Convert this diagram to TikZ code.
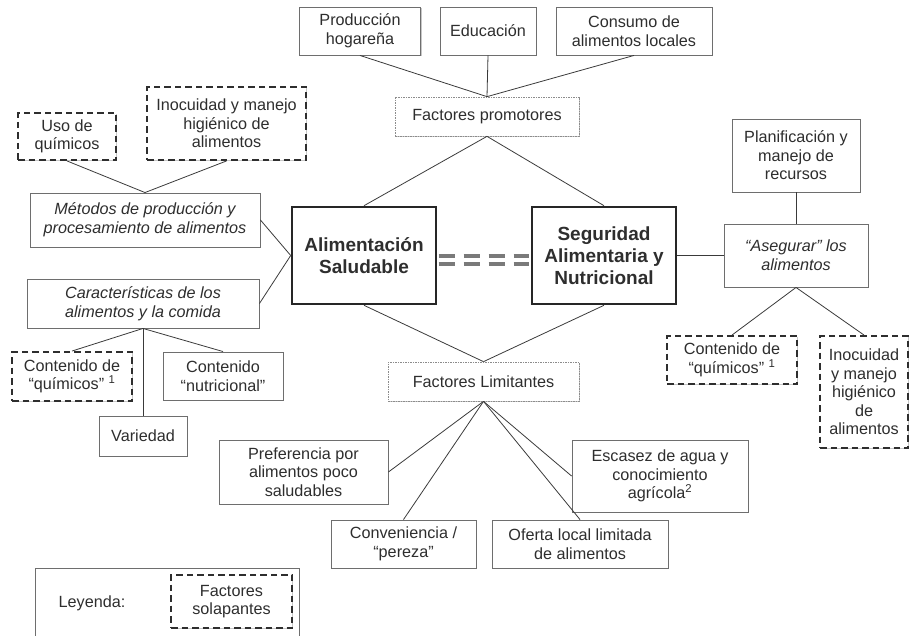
\documentclass[tikz,border=0pt]{standalone}
\usepackage{fontspec}
\setmainfont{Liberation Sans}
\usetikzlibrary{shadows,calc}
\definecolor{txt}{HTML}{2E2E2E}
\definecolor{bord}{HTML}{6E6E6E}
\definecolor{lnk}{HTML}{3A3A3A}
\definecolor{dbl}{HTML}{7A7A7A}
\tikzset{
  base/.style={align=center, inner sep=0pt, font=\fontsize{16.2}{18.6}\selectfont, text=txt},
  shad/.style={drop shadow={fill=black!22, opacity=1, shadow xshift=1.3pt, shadow yshift=-1.3pt}},
  sbox/.style={base, draw=bord, line width=0.9pt, fill=white, shad},
  ovbox/.style={base, draw=black!82, line width=1.9pt, dash pattern=on 6.5pt off 4pt, fill=white, shad},
  fbox/.style={base, draw=black!45, line width=0.7pt, dash pattern=on 1.5pt off 1pt, fill=white, shad},
  mainbox/.style={base, draw=black!85, line width=2.6pt, fill=white, font=\fontsize{19}{22}\selectfont\bfseries},
  link/.style={draw=lnk, line width=0.8pt},
  dblink/.style={draw=dbl, line width=3.2pt, dash pattern=on 16pt off 9pt},
  sz/.style 2 args={minimum width=#1pt, minimum height=#2pt},
}
\begin{document}
\begin{tikzpicture}[x=1pt,y=-1pt]
\path[use as bounding box, clip] (0,0) rectangle (910,636);

% top promoters
\node[sbox, sz={121}{48}] (prod) at (360,31) {Producción\\hogareña};
\node[sbox, sz={96}{48}] (edu) at (488,31) {Educación};
\node[sbox, sz={156}{48}] (cons) at (634,31) {Consumo de\\alimentos locales};
\node[fbox, sz={184}{39}] (fp) at (487,116.5) {Factores promotores};

% left upper
\node[ovbox, sz={98}{47}] (uso) at (67,136.5) {Uso de\\químicos};
\node[ovbox, sz={159}{73}] (inoL) at (226.5,123.5) {Inocuidad y manejo\\higiénico de\\alimentos};
\node[sbox, sz={230}{54}] (met) at (145,220) {\itshape Métodos de producción y\\\itshape procesamiento de alimentos};
\node[sbox, sz={232}{49}] (car) at (143,303.5) {\itshape Características de los\\\itshape alimentos y la comida};
\node[ovbox, sz={120}{49}] (quimL) at (72,376.5) {Contenido de\\“químicos” \textsuperscript{1}};
\node[sbox, sz={120}{48}] (nutr) at (223,376) {Contenido\\“nutricional”};
\node[sbox, sz={88}{40}] (var) at (143,436) {Variedad};

% central
\node[mainbox, sz={144}{97}] (alim) at (364,255.5) {Alimentación\\Saludable};
\node[mainbox, sz={144}{97}] (seg) at (604,255.5) {Seguridad\\Alimentaria y\\Nutricional};

% right
\node[sbox, sz={128}{73}] (plan) at (796,155.5) {Planificación y\\manejo de\\recursos};
\node[sbox, sz={144}{63}] (ase) at (796,255.5) {\itshape “Asegurar” los\\\itshape alimentos};
\node[ovbox, sz={130}{48}] (quimR) at (732,360) {Contenido de\\“químicos” \textsuperscript{1}};
\node[ovbox, sz={88}{112}] (inoR) at (864,392) {Inocuidad\\y manejo\\higiénico\\de\\alimentos};

% limiting
\node[fbox, sz={191}{39}] (fl) at (483.5,381.5) {Factores Limitantes};
\node[sbox, sz={169}{64}] (pref) at (303.5,472) {Preferencia por\\alimentos poco\\saludables};
\node[sbox, sz={145}{48}] (conv) at (403.5,544) {Conveniencia /\\“pereza”};
\node[sbox, sz={176}{48}] (ofe) at (580,544) {Oferta local limitada\\de alimentos};
\node[sbox, sz={176}{72}] (esc) at (660,476) {Escasez de agua y\\conocimiento\\agrícola\textsuperscript{2}};

% legend
\draw[draw=bord, line width=0.9pt] (35,645) -- (35,568) -- (299,568) -- (299,645);
\node[base] (ley) at (92,603) {Leyenda:};
\node[ovbox, sz={121}{53}] (leg) at (231.5,601.5) {Factores\\solapantes};

% connectors
\draw[link] (prod.south) -- (fp.north);
\draw[link] (edu.south) -- (fp.north);
\draw[link] (cons.south) -- (fp.north);
\draw[link] (fp.south) -- (alim.north);
\draw[link] (fp.south) -- (seg.north);
\draw[link] (alim.south) -- (fl.north);
\draw[link] (seg.south) -- (fl.north);
\draw[link] (fl.south) -- (pref.east);
\draw[link] (fl.south) -- (conv.north);
\draw[link] (fl.south) -- (ofe.north);
\draw[link] (fl.south) -- (esc.west);
\draw[link] (uso.south) -- (met.north);
\draw[link] (inoL.south) -- (met.north);
\draw[link] (met.east) -- (alim.west);
\draw[link] (car.east) -- (alim.west);
\draw[link] (car.south) -- (quimL.north);
\draw[link] (car.south) -- (var.north);
\draw[link] (car.south) -- (nutr.north);
\draw[link] (seg.east) -- (ase.west);
\draw[link] (plan.south) -- (ase.north);
\draw[link] (ase.south) -- (quimR.north);
\draw[link] (ase.south) -- (inoR.north);
\draw[dblink] ($(alim.east)+(1.3,0.5)$) -- ($(seg.west)+(-1.3,0.5)$);
\draw[dblink] ($(alim.east)+(1.3,8.5)$) -- ($(seg.west)+(-1.3,8.5)$);
\end{tikzpicture}
\end{document}
